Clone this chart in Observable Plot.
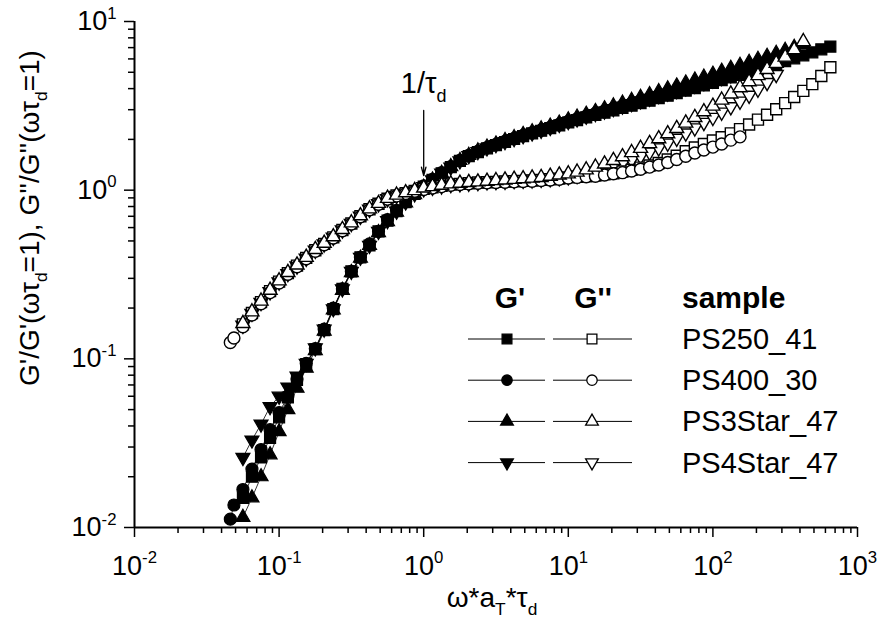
<!DOCTYPE html>
<html><head><meta charset="utf-8">
<script src="https://cdn.jsdelivr.net/npm/d3@7"></script>
<script src="https://cdn.jsdelivr.net/npm/@observablehq/plot@0.6"></script>
<style>
body{margin:0;background:#fff}
#chart{position:relative;width:880px;height:625px}
</style>
</head><body><div id="chart"></div>
<script>
// ---------------- data ----------------
const omega = [0.046,0.0487,0.0562,0.0649,0.075,0.0866,0.1,0.115,0.133,0.154,0.178,0.205,0.237,0.274,0.316,0.365,0.422,0.487,0.562,0.649,0.75,0.866,1,1.15,1.33,1.54,1.78,2.05,2.37,2.74,3.16,3.65,4.22,4.87,5.62,6.49,7.5,8.66,10,11.5,13.3,15.4,17.8,20.5,23.7,27.4,31.6,36.5,42.2,48.7,56.2,64.9,75,86.6,100,115,133,154,178,205,237,274,316,365,422,487,562,649];

const samples = ["PS250_41","PS400_30","PS3Star_47","PS4Star_47"];

// G'/G'(w tau_d = 1)
const gp_PS250_41 = [null,null,0.0150,0.0200,0.026,0.034,0.045,0.059,0.075,0.093,0.114,0.148,0.197,0.26,0.33,0.40,0.47,0.57,0.66,0.75,0.85,0.95,1.05,1.15,1.26,1.37,1.49,1.59,1.68,1.77,1.85,1.93,2.01,2.09,2.17,2.25,2.33,2.42,2.52,2.60,2.70,2.79,2.88,2.97,3.07,3.17,3.28,3.39,3.51,3.63,3.76,3.89,4.03,4.18,4.33,4.49,4.66,4.83,5.01,5.20,5.40,5.60,5.82,6.05,6.30,6.56,6.84,7.10];
const gp_PS400_30 = [0.0112,0.0136,0.0168,0.0222,0.029,0.038,0.048,0.060,0.076,0.094,0.115,0.150,0.20,0.26,0.33,0.40,0.48,0.57,0.67,0.76,0.86,0.96,1.06,1.16,1.27,1.38,1.50,1.61,1.70,1.79,1.87,1.95,2.03,2.11,2.19,2.27,2.36,2.46,2.56,2.65,2.75,2.85,2.95,3.05,3.16,3.27,3.39,3.51,3.64,3.77,3.90,4.04,4.19,4.34,4.50,4.66,4.82,4.99,null,null,null,null,null,null,null,null,null,null];
const gp_PS3Star_47 = [null,null,0.0115,0.0150,0.020,0.027,0.037,0.050,0.067,0.088,0.112,0.146,0.195,0.255,0.325,0.395,0.47,0.56,0.65,0.74,0.84,0.94,1.04,1.15,1.26,1.38,1.50,1.61,1.71,1.80,1.88,1.97,2.05,2.14,2.22,2.31,2.40,2.50,2.61,2.71,2.82,2.93,3.04,3.16,3.28,3.41,3.55,3.69,3.84,3.99,4.15,4.32,4.50,4.68,4.87,5.07,5.28,5.50,5.73,5.97,6.22,6.48,6.75,7.03,7.32,null,null,null];
const gp_PS4Star_47 = [null,null,0.026,0.033,0.041,0.052,0.060,0.068,0.079,0.094,0.116,0.150,0.198,0.26,0.33,0.40,0.47,0.57,0.66,0.75,0.85,0.95,1.05,1.15,1.26,1.37,1.49,1.60,1.69,1.78,1.86,1.94,2.02,2.10,2.18,2.26,2.35,2.45,2.55,2.64,2.74,2.84,2.94,3.04,3.15,3.26,3.38,3.50,3.63,3.76,3.89,4.03,4.18,4.33,4.49,4.65,4.82,4.99,5.17,5.36,5.56,5.77,null,null,null,null,null,null];

// G''/G''(w tau_d = 1)
const gpp_PS250_41 = [null,null,0.16,0.187,0.217,0.252,0.287,0.322,0.357,0.397,0.44,0.48,0.525,0.58,0.635,0.70,0.77,0.83,0.89,0.93,0.96,0.99,1.02,1.04,1.06,1.08,1.09,1.10,1.11,1.115,1.12,1.125,1.13,1.135,1.14,1.15,1.16,1.17,1.19,1.20,1.21,1.22,1.24,1.26,1.29,1.32,1.36,1.40,1.45,1.52,1.60,1.70,1.79,1.88,1.97,2.06,2.17,2.30,2.45,2.62,2.80,3.02,3.28,3.57,3.88,4.25,4.75,5.35];
const gpp_PS400_30 = [0.125,0.133,0.155,0.182,0.212,0.247,0.282,0.317,0.352,0.392,0.435,0.475,0.52,0.575,0.63,0.695,0.765,0.825,0.885,0.925,0.955,0.985,1.01,1.03,1.05,1.07,1.08,1.09,1.10,1.105,1.11,1.115,1.12,1.125,1.13,1.14,1.15,1.16,1.18,1.19,1.20,1.21,1.23,1.25,1.27,1.30,1.33,1.37,1.41,1.46,1.52,1.59,1.66,1.73,1.80,1.88,1.98,2.07,null,null,null,null,null,null,null,null,null,null];
const gpp_PS3Star_47 = [null,null,0.162,0.19,0.22,0.255,0.29,0.325,0.36,0.40,0.445,0.485,0.53,0.585,0.64,0.705,0.775,0.835,0.895,0.935,0.965,0.995,1.03,1.05,1.07,1.09,1.10,1.11,1.12,1.13,1.14,1.15,1.16,1.17,1.18,1.19,1.21,1.23,1.25,1.28,1.32,1.37,1.43,1.50,1.58,1.67,1.77,1.89,2.02,2.16,2.32,2.50,2.70,2.92,3.15,3.42,3.72,4.05,4.40,4.78,5.20,5.65,6.15,6.80,7.60,null,null,null];
const gpp_PS4Star_47 = [null,null,0.158,0.186,0.216,0.25,0.285,0.32,0.355,0.395,0.44,0.48,0.525,0.58,0.635,0.70,0.77,0.83,0.89,0.93,0.96,0.99,1.02,1.04,1.06,1.08,1.09,1.10,1.11,1.12,1.125,1.13,1.14,1.145,1.15,1.16,1.17,1.185,1.20,1.22,1.25,1.29,1.33,1.38,1.44,1.51,1.59,1.68,1.78,1.90,2.03,2.18,2.34,2.52,2.70,2.90,3.12,3.37,3.65,3.97,4.35,4.85,null,null,null,null,null,null];

const xMajorTicks = [1e-2,1e-1,1e0,1e1,1e2,1e3];
const yMajorTicks = [1e-2,1e-1,1e0,1e1];
const xTitle = "ω*a_{T}*τ_{d}";
const yTitle = "G'/G'(ωτ_{d}=1), G''/G''(ωτ_{d}=1)";
const annotation = [{x: 1, yText: 4.25, yFrom: 2.97, yTo: 1.22, label: "1/τ_{d}"}];
const legendHeaders = ["G'", "G''", "sample"];

// ---------------- build ----------------
const sqrt3 = Math.sqrt(3);
const triangleDown = {
  draw(context, size) {
    const y = -Math.sqrt(size / (sqrt3 * 3));
    context.moveTo(0, -y * 2);
    context.lineTo(-sqrt3 * y, y);
    context.lineTo(sqrt3 * y, y);
    context.closePath();
  }
};
const symbolOf = {PS250_41: "square", PS400_30: "circle", PS3Star_47: "triangle", PS4Star_47: triangleDown};
const d3SymbolOf = {PS250_41: d3.symbolSquare, PS400_30: d3.symbolCircle, PS3Star_47: d3.symbolTriangle, PS4Star_47: triangleDown};
const rOf = {PS250_41: 6.2, PS400_30: 6, PS3Star_47: 5.2, PS4Star_47: 5.2};
const seriesG1 = {PS250_41: gp_PS250_41, PS400_30: gp_PS400_30, PS3Star_47: gp_PS3Star_47, PS4Star_47: gp_PS4Star_47};
const seriesG2 = {PS250_41: gpp_PS250_41, PS400_30: gpp_PS400_30, PS3Star_47: gpp_PS3Star_47, PS4Star_47: gpp_PS4Star_47};

function rows(arr) {
  const out = [];
  arr.forEach((v, i) => { if (v != null) out.push({x: omega[i], y: v}); });
  return out;
}

const minorTicks = (lo, hi) => {
  const t = [];
  for (let e = lo; e < hi; e++) for (let m = 2; m <= 9; m++) t.push(m * Math.pow(10, e));
  return t;
};
const fmtPow = d => "10^{" + Math.round(Math.log10(d)) + "}";

const drawOrder = ["PS4Star_47", "PS250_41", "PS400_30", "PS3Star_47"];
const marks = [];
for (const s of drawOrder) {
  const d = rows(seriesG1[s]);
  marks.push(Plot.line(d, {x: "x", y: "y", stroke: "black", strokeWidth: 0.8}));
  marks.push(Plot.dot(d, {x: "x", y: "y", symbol: symbolOf[s], r: rOf[s], fill: "black", stroke: "black", strokeWidth: 1.2}));
}
for (const s of drawOrder) {
  const d = rows(seriesG2[s]);
  marks.push(Plot.line(d, {x: "x", y: "y", stroke: "black", strokeWidth: 0.8}));
  marks.push(Plot.dot(d, {x: "x", y: "y", symbol: symbolOf[s], r: rOf[s], fill: "white", stroke: "black", strokeWidth: 1.4}));
}

const FONT = "'Liberation Sans', Arial, Helvetica, sans-serif";
const chart = Plot.plot({
  width: 880, height: 625,
  marginLeft: 134, marginRight: 23, marginTop: 21, marginBottom: 98,
  style: {fontFamily: FONT, fontSize: "27px", background: "white", color: "black", overflow: "visible"},
  x: {type: "log", domain: [1e-2, 1e3]},
  y: {type: "log", domain: [1e-2, 1e1]},
  marks: [
    Plot.axisX({ticks: minorTicks(-2, 3), tickSize: 6, strokeWidth: 1.5, tickFormat: () => "", label: null}),
    Plot.axisX({ticks: xMajorTicks, tickSize: 10, strokeWidth: 1.5, tickPadding: 18, fontSize: 27, tickFormat: fmtPow, label: null}),
    Plot.axisY({ticks: minorTicks(-2, 1), tickSize: 6, strokeWidth: 1.5, tickFormat: () => "", label: null}),
    Plot.axisY({ticks: yMajorTicks, tickSize: 10, strokeWidth: 1.5, tickPadding: 8, fontSize: 27, tickFormat: fmtPow, label: null}),
    Plot.ruleX([1e-2], {strokeWidth: 2}),
    Plot.ruleY([1e-2], {strokeWidth: 2}),
    ...marks,
    Plot.arrow(annotation, {x: "x", y1: "yFrom", y2: "yTo", headLength: 10, headAngle: 30, strokeWidth: 1.3, stroke: "black"}),
    Plot.text(annotation, {x: "x", y: "yText", text: "label", fontSize: 29, textAnchor: "middle"})
  ]
});
document.getElementById("chart").appendChild(chart);

// ---------------- titles and legend ----------------
const svg = d3.select(chart);
const tg = svg.append("g").attr("font-family", FONT).attr("fill", "black");
tg.append("text").attr("x", 492).attr("y", 607).attr("text-anchor", "middle").attr("font-size", 28).text(xTitle);
tg.append("text").attr("transform", "translate(39,218) rotate(-90)").attr("text-anchor", "middle").attr("font-size", 28).text(yTitle);

const lg = svg.append("g").attr("font-family", FONT).attr("fill", "black");
const hdrY = 308;
lg.append("text").attr("x", 510).attr("y", hdrY).attr("text-anchor", "middle").attr("font-weight", "bold").attr("font-size", 30).text(legendHeaders[0]);
lg.append("text").attr("x", 593).attr("y", hdrY).attr("text-anchor", "middle").attr("font-weight", "bold").attr("font-size", 30).text(legendHeaders[1]);
lg.append("text").attr("x", 682).attr("y", hdrY).attr("text-anchor", "start").attr("font-weight", "bold").attr("font-size", 30).text(legendHeaders[2]);
samples.forEach((s, i) => {
  const cy = 339 + i * 41.2;
  [[468, 545, 507, "black"], [553, 632, 592, "white"]].forEach(([a, b, m, fill]) => {
    lg.append("line").attr("x1", a).attr("x2", b).attr("y1", cy).attr("y2", cy).attr("stroke", "black").attr("stroke-width", 1);
    const size = s === "PS3Star_47" || s === "PS4Star_47" ? 70 : s === "PS250_41" ? 95 : 85;
    lg.append("path").attr("d", d3.symbol(d3SymbolOf[s], size)()).attr("transform", `translate(${m},${cy})`)
      .attr("fill", fill).attr("stroke", "black").attr("stroke-width", 1.3);
  });
  lg.append("text").attr("x", 682).attr("y", cy + 10).attr("text-anchor", "start").attr("font-size", 29).text(s);
});

// ---------------- sub/superscript rendering ----------------
function richify(root) {
  root.querySelectorAll("text").forEach(t => {
    const s = t.textContent;
    if (!/[\^_]\{/.test(s)) return;
    const fs = parseFloat(getComputedStyle(t).fontSize) || 25;
    while (t.firstChild) t.removeChild(t.firstChild);
    const re = /([\^_])\{([^}]*)\}/g;
    let last = 0, m, shift = 0;
    const add = (txt, kind) => {
      const ts = document.createElementNS("http://www.w3.org/2000/svg", "tspan");
      const target = kind === "^" ? -0.42 * fs : kind === "_" ? 0.28 * fs : 0;
      const dy = target - shift;
      if (dy) ts.setAttribute("dy", dy);
      shift = target;
      if (kind) ts.setAttribute("font-size", 0.62 * fs);
      ts.textContent = txt;
      t.appendChild(ts);
    };
    while ((m = re.exec(s))) {
      if (m.index > last) add(s.slice(last, m.index), null);
      add(m[2], m[1]);
      last = re.lastIndex;
    }
    if (last < s.length) add(s.slice(last), null);
  });
}
richify(chart);
</script>
</body></html>
